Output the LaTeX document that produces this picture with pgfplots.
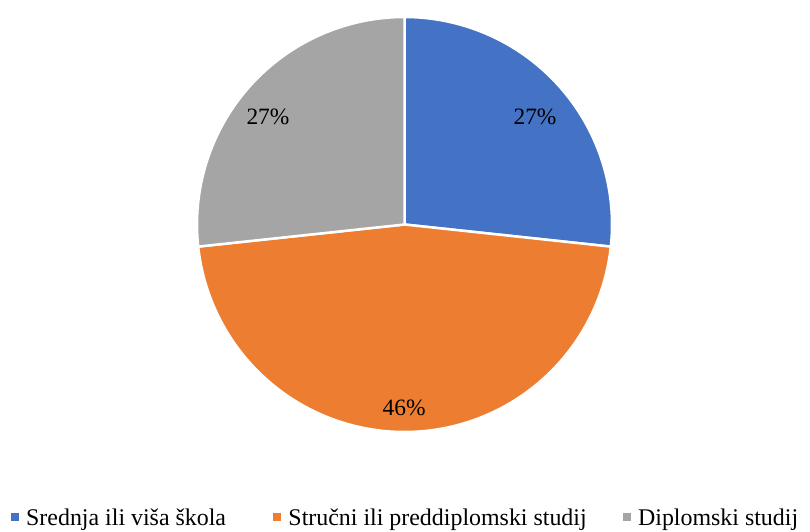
\documentclass[border=0pt]{standalone}
\usepackage{pgfplots}
\pgfplotsset{compat=1.18}
\usepackage{fontspec}
\setmainfont{Liberation Serif}
\definecolor{pieblue}{HTML}{4472C4}
\definecolor{pieorange}{HTML}{ED7D31}
\definecolor{piegray}{HTML}{A5A5A5}
% shares (percent) of the three groups
\def\va{26.7}
\def\vb{46.6}
\def\vc{26.7}
\pgfmathsetmacro\aA{90}
\pgfmathsetmacro\aB{90-3.6*\va}
\pgfmathsetmacro\aC{\aB-3.6*\vb}
\pgfmathsetmacro\aD{\aC-3.6*\vc}
\begin{document}
\begin{tikzpicture}
\begin{axis}[
  hide axis, scale only axis, width=415bp, height=415bp,
  xmin=-1, xmax=1, ymin=-1, ymax=1, clip=false,
  legend columns=3,
  legend style={draw=none, fill=none, inner sep=0pt, at={(0.5,-0.207)}, anchor=center,
    font=\fontsize{24}{28}\selectfont, nodes={inner sep=0pt},
    /tikz/every odd column/.append style={column sep=8bp},
    /tikz/column 2/.style={column sep=47bp},
    /tikz/column 4/.style={column sep=36bp}},
]
\addplot[fill=pieblue, draw=white, line width=2.5bp, domain=\aB:\aA, samples=100, variable=\t, forget plot] ({cos(\t)},{sin(\t)}) -- (axis cs:0,0) -- cycle;
\addplot[fill=pieorange, draw=white, line width=2.5bp, domain=\aC:\aB, samples=150, variable=\t, forget plot] ({cos(\t)},{sin(\t)}) -- (axis cs:0,0) -- cycle;
\addplot[fill=piegray, draw=white, line width=2.5bp, domain=\aD:\aC, samples=100, variable=\t, forget plot] ({cos(\t)},{sin(\t)}) -- (axis cs:0,0) -- cycle;
\addlegendimage{legend image code/.code={\fill[pieblue] (0bp,-2bp) rectangle (7bp,5bp);}}
\addlegendentry{Srednja ili viša škola}
\addlegendimage{legend image code/.code={\fill[pieorange] (0bp,-2bp) rectangle (7bp,5bp);}}
\addlegendentry{Stručni ili preddiplomski studij}
\addlegendimage{legend image code/.code={\fill[piegray] (0bp,-2bp) rectangle (7bp,5bp);}}
\addlegendentry{Diplomski studij}
\node[font=\fontsize{23.5}{27}\selectfont, inner sep=0pt] at (axis cs:0.629,0.518) {27\%};
\node[font=\fontsize{23.5}{27}\selectfont, inner sep=0pt] at (axis cs:-0.658,0.518) {27\%};
\node[font=\fontsize{23.5}{27}\selectfont, inner sep=0pt] at (axis cs:-0.002,-0.884) {46\%};
\coordinate (C) at (axis cs:0,0);
\end{axis}
\pgfresetboundingbox
\path (C) ++(-404.5bp,-307.5bp) rectangle ++(810bp,532bp);
\end{tikzpicture}
\end{document}
